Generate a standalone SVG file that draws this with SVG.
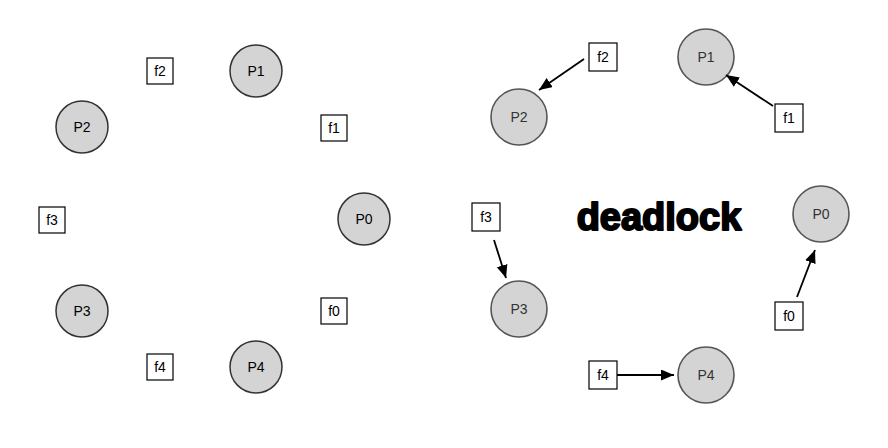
<svg xmlns="http://www.w3.org/2000/svg" width="888" height="448" viewBox="0 0 888 448">
<style>
.p circle{fill:#d4d4d4;stroke:#333;stroke-width:1.5}
.p2 circle{fill:#d4d4d4;stroke:#555;stroke-width:1.6}
.f rect{fill:#fff;stroke:#000;stroke-width:1.2}
text{font-family:"Liberation Sans",Arial,Helvetica,sans-serif;text-anchor:middle;dominant-baseline:central}
.p text{font-size:14px;fill:#000}
.p2 text{font-size:14px;fill:#333}
.f text{font-size:14px;fill:#000}
.e line{stroke:#000;stroke-width:1.8;marker-end:url(#ah)}
.t{font-size:38px;font-weight:bold;fill:#000;stroke:#000;stroke-width:2;stroke-linejoin:round}
</style>
<defs>
<marker id="ah" markerUnits="userSpaceOnUse" markerWidth="14" markerHeight="12" refX="13" refY="5.5" orient="auto">
<path d="M0,0 L13,5.5 L0,11 Z" fill="#000"/>
</marker>
</defs>
<rect width="888" height="448" fill="#fff"/>
<!-- left -->
<g id="L_P0" class="p"><circle cx="364" cy="219" r="26"/><text x="364" y="219">P0</text></g>
<g id="L_P1" class="p"><circle cx="256" cy="71" r="26"/><text x="256" y="71">P1</text></g>
<g id="L_P2" class="p"><circle cx="82" cy="127" r="26"/><text x="82" y="127">P2</text></g>
<g id="L_P3" class="p"><circle cx="82" cy="311" r="26"/><text x="82" y="311">P3</text></g>
<g id="L_P4" class="p"><circle cx="256" cy="367" r="26"/><text x="256" y="367">P4</text></g>
<g id="L_f0" class="f"><rect x="321" y="298" width="26" height="26"/><text x="334" y="311">f0</text></g>
<g id="L_f1" class="f"><rect x="321" y="115" width="26" height="26"/><text x="334" y="128">f1</text></g>
<g id="L_f2" class="f"><rect x="147" y="58" width="26" height="26"/><text x="160" y="71">f2</text></g>
<g id="L_f3" class="f"><rect x="39" y="207" width="26" height="26"/><text x="52" y="220">f3</text></g>
<g id="L_f4" class="f"><rect x="147" y="354" width="26" height="26"/><text x="160" y="367">f4</text></g>
<!-- right -->
<g id="R_P0" class="p2"><circle cx="821" cy="214" r="28"/><text x="821" y="214">P0</text></g>
<g id="R_P1" class="p2"><circle cx="706" cy="57" r="28"/><text x="706" y="57">P1</text></g>
<g id="R_P2" class="p2"><circle cx="519" cy="117" r="28"/><text x="519" y="117">P2</text></g>
<g id="R_P3" class="p2"><circle cx="519" cy="309" r="28"/><text x="519" y="309">P3</text></g>
<g id="R_P4" class="p2"><circle cx="706" cy="375" r="28"/><text x="706" y="375">P4</text></g>
<g id="R_f0" class="f"><rect x="775" y="302" width="28" height="28"/><text x="789" y="316">f0</text></g>
<g id="R_f1" class="f"><rect x="775" y="104" width="28" height="28"/><text x="789" y="118">f1</text></g>
<g id="R_f2" class="f"><rect x="589" y="43" width="28" height="28"/><text x="603" y="57">f2</text></g>
<g id="R_f3" class="f"><rect x="472" y="203" width="28" height="28"/><text x="486" y="217">f3</text></g>
<g id="R_f4" class="f"><rect x="589" y="361" width="28" height="28"/><text x="603" y="375">f4</text></g>
<g id="connectors" class="e">
<line x1="584" y1="59" x2="539" y2="90"/>
<line x1="773" y1="106" x2="726" y2="75"/>
<line x1="494" y1="240" x2="506" y2="278"/>
<line x1="797" y1="297" x2="815" y2="250"/>
<line x1="617" y1="375" x2="674" y2="375"/>
</g>
<text class="t" x="659" y="217">deadlock</text>
</svg>
